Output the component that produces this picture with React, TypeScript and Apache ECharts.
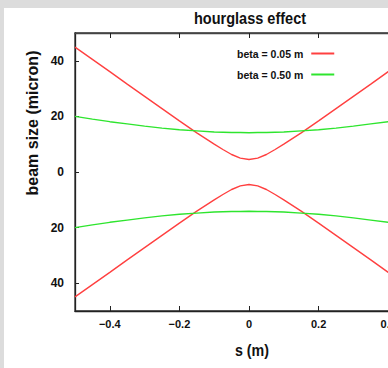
import React, { useEffect, useRef } from "react";
import * as echarts from "echarts";

// longitudinal position along the beam line (m)
const sPositions = [
  -0.5, -0.45, -0.4, -0.35, -0.3, -0.25, -0.2, -0.15, -0.1, -0.075, -0.05, -0.025,
  0, 0.025, 0.05, 0.075, 0.1, 0.15, 0.2, 0.25, 0.3, 0.35, 0.4, 0.45, 0.5,
];

// beam envelope for beta* = 0.05 m (micron)
const redUpper = [
  44.9, 40.5, 36.1, 31.6, 27.2, 22.8, 18.4, 14.1, 10.0, 8.1, 6.3, 5.0,
  4.5, 5.0, 6.3, 8.1, 10.0, 14.1, 18.4, 22.8, 27.2, 31.6, 36.1, 40.5, 44.9,
];
const redLower = [
  -44.9, -40.5, -36.1, -31.6, -27.2, -22.8, -18.4, -14.1, -10.0, -8.1, -6.3, -5.0,
  -4.5, -5.0, -6.3, -8.1, -10.0, -14.1, -18.4, -22.8, -27.2, -31.6, -36.1, -40.5, -44.9,
];

// beam envelope for beta* = 0.50 m (micron)
const greenUpper = [
  20.0, 19.0, 18.1, 17.3, 16.5, 15.8, 15.2, 14.8, 14.4, 14.3, 14.2, 14.2,
  14.1, 14.2, 14.2, 14.3, 14.4, 14.8, 15.2, 15.8, 16.5, 17.3, 18.1, 19.0, 20.0,
];
const greenLower = [
  -20.0, -19.0, -18.1, -17.3, -16.5, -15.8, -15.2, -14.8, -14.4, -14.3, -14.2, -14.2,
  -14.1, -14.2, -14.2, -14.3, -14.4, -14.8, -15.2, -15.8, -16.5, -17.3, -18.1, -19.0, -20.0,
];

const xTicks = [-0.4, -0.2, 0, 0.2, 0.4];
const yTicks = [-40, -20, 0, 20, 40];

const seriesNames = ["beta = 0.05 m", "beta = 0.50 m"];
const titleText = "hourglass effect";
const xName = "s (m)";
const yName = "beam size (micron)";

const RED = "#ff4040";
const GREEN = "#2ee52e";
const FONT = "'Liberation Sans', Arial, sans-serif";

const pairs = (ys: number[]) => sPositions.map((s, i) => [s, ys[i]]);

export default function App() {
  const ref = useRef<HTMLDivElement>(null);

  useEffect(() => {
    if (!ref.current) return;
    const chart = echarts.init(ref.current, undefined, { renderer: "svg" });

    const lineSeries = (name: string, ys: number[], color: string) => ({
      type: "line",
      name,
      data: pairs(ys),
      showSymbol: false,
      smooth: false,
      lineStyle: { color, width: 1.4 },
      itemStyle: { color },
      z: 3,
    });

    const minus = (v: number) => (v < 0 ? "\u2212" + String(-v) : String(v));

    // condensed bold captions (title and axis names)
    const caption = (text: string, x: number, y: number, size: number, sx: number, rot = 0) => ({
      type: "text",
      x,
      y,
      rotation: rot,
      scaleX: sx,
      style: {
        text,
        font: `bold ${size}px ${FONT}`,
        fill: "#111",
        align: "center",
        verticalAlign: "middle",
      },
    });

    chart.setOption({
      animation: false,
      backgroundColor: "#dcdcdc",
      graphic: [
        {
          type: "rect",
          z: -10,
          shape: { x: 4, y: 8, width: 500, height: 400 },
          style: { fill: "#ffffff" },
        },
        caption(titleText, 250, 18, 17, 0.855),
        caption(xName, 252, 350, 17, 0.84),
        caption(yName, 32, 123, 16, 1, Math.PI / 2),
      ],
      legend: {
        orient: "vertical",
        left: 232,
        top: 43,
        align: "right",
        itemWidth: 23,
        itemHeight: 2,
        itemGap: 10,
        data: [
          { name: seriesNames[0], icon: "rect" },
          { name: seriesNames[1], icon: "rect" },
        ],
        textStyle: { fontFamily: FONT, fontWeight: "bold", fontSize: 10.5, color: "#111", padding: [0, 3, 0, 0] },
      },
      grid: {
        left: 75,
        top: 33,
        width: 348,
        height: 278,
        show: true,
        borderColor: "#333",
        borderWidth: 1.3,
        backgroundColor: "transparent",
      },
      xAxis: [
        {
          type: "value",
          min: -0.5,
          max: 0.5,
          axisLine: { show: true, onZero: false, lineStyle: { color: "#222", width: 1.3 } },
          axisTick: { show: true, inside: true, length: 5, customValues: xTicks, lineStyle: { color: "#222" } },
          axisLabel: {
            customValues: xTicks,
            formatter: (v: number) => minus(v),
            margin: 7,
            fontFamily: FONT,
            fontWeight: "bold",
            fontSize: 11,
            color: "#111",
          },
          splitLine: { show: false },
        },
        {
          type: "value",
          position: "top",
          min: -0.5,
          max: 0.5,
          axisLine: { show: true, onZero: false, lineStyle: { color: "#444", width: 1.3 } },
          axisTick: { show: true, inside: true, length: 5, customValues: xTicks, lineStyle: { color: "#222" } },
          axisLabel: { show: false, customValues: xTicks },
          splitLine: { show: false },
        },
      ],
      yAxis: {
        type: "value",
        min: -50,
        max: 50,
        axisLine: { show: true, onZero: false, lineStyle: { color: "#222", width: 1.3 } },
        axisTick: { show: true, inside: true, length: 4, customValues: yTicks, lineStyle: { color: "#222" } },
        axisLabel: {
          customValues: yTicks,
          formatter: (v: number) => String(Math.abs(v)),
          margin: 11,
          fontFamily: FONT,
          fontWeight: "bold",
          fontSize: 12,
          color: "#111",
        },
        splitLine: { show: false },
      },
      series: [
        lineSeries(seriesNames[0], redUpper, RED),
        lineSeries(seriesNames[0], redLower, RED),
        lineSeries(seriesNames[1], greenUpper, GREEN),
        lineSeries(seriesNames[1], greenLower, GREEN),
      ],
    });

    return () => chart.dispose();
  }, []);

  return (
    <div
      style={{
        position: "fixed",
        left: 0,
        top: 0,
        width: 388,
        height: 368,
        overflow: "hidden",
        background: "#dcdcdc",
      }}
    >
      <div ref={ref} style={{ width: 440, height: 368 }} />
    </div>
  );
}
